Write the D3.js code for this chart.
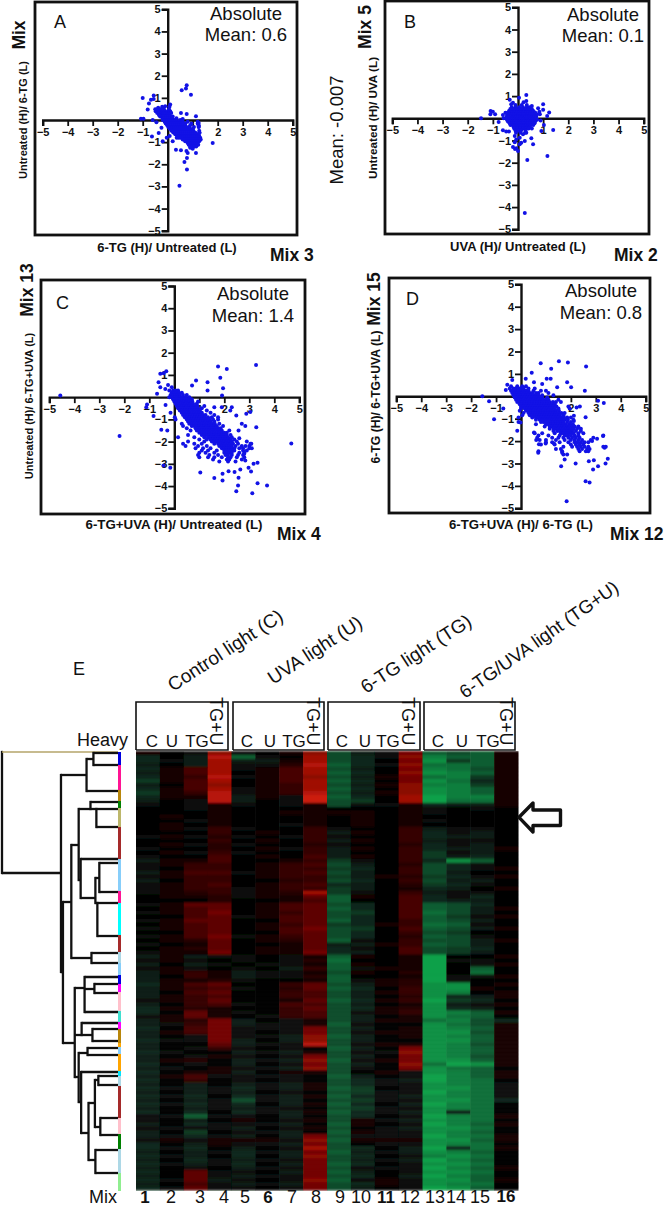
<!DOCTYPE html>
<html><head><meta charset="utf-8">
<script src="https://cdn.jsdelivr.net/npm/d3@7/dist/d3.min.js"></script>
<style>html,body{margin:0;padding:0;background:#fff}svg{display:block}text{font-family:"Liberation Sans",Arial,sans-serif;fill:#111}</style>
</head><body><svg id="c" width="666" height="1207"></svg>
<script>
// ---------- scatter data: [y, [x, x, ...]] bands of the dense clouds + outliers [x, y]
const axisTicks=[-5,-4,-3,-2,-1,1,2,3,4,5];
const coreA=[[.55,[-.38,-.2]],[.48,[-.5,-.42,-.3,-.15,.05]],[.4,[-.48,-.36,-.28,-.2,-.1,.02,.1]],[.32,[-.42,-.33,-.24,-.16,-.06,.04,.14]],[.24,[-.35,-.27,-.2,-.12,-.03,.06]],[.16,[-.3,-.22,-.14,-.06,.02,.1,.2]],[.08,[-.2,-.13,-.05,.03,.1,.18,.35]],[0,[-.2,-.1,-.02,.06,.14,.22,.3,.5]],[-.08,[-.12,-.04,.04,.12,.2,.28,.36,.44,.6,.8,1.2]],[-.16,[-.08,0,.08,.16,.24,.32,.4,.48,.56,.7,.95,1.2]],[-.24,[-.02,.06,.14,.22,.3,.38,.46,.54,.62,.7,.9,1.24]],[-.32,[.02,.1,.18,.26,.34,.42,.5,.58,.66,.74,.86,1.05,1.24]],[-.4,[.08,.16,.24,.32,.4,.48,.56,.64,.72,.8,.88,1]],[-.48,[.15,.22,.3,.38,.46,.54,.62,.7,.78,.86,.94,1.02,1.26]],[-.56,[.22,.3,.38,.46,.54,.62,.7,.78,.86,.94,1.02,1.1,1.27]],[-.64,[.3,.38,.46,.54,.62,.7,.78,.86,.94,1.02,1.1,1.18]],[-.72,[.08,.38,.46,.54,.62,.7,.78,.86,.94,1.02,1.1,1.18,1.26]],[-.8,[.36,.44,.52,.6,.68,.76,.84,.92,1,1.08,1.16,1.24,1.3]],[-.88,[.6,.68,.76,.84,.92,1,1.08,1.16,1.24,1.32]],[-.96,[.7,.78,.86,.94,1.02,1.1,1.18,1.26]],[-1.04,[.8,.88,.96,1.04,1.12,1.2]],[-1.12,[.84,.92,1,1.08,1.16,1.22]],[-1.2,[.9,.98,1.06,1.14]]];
const outA=[[.76,1.57],[.73,1.42],[.56,1.34],[.93,1.14],[-1,.99],[-.56,1.11],[-.67,.92],[-.56,.95],[-.75,.75],[-.8,.47],[-1.07,.06],[-.97,.06],[1.8,-1.04],[.47,-2.97],[.77,-2.24],[.67,-1.9],[.77,-1.72],[.8,-1.49],[1.13,-1.49],[.53,-1.37],[.33,-1.34],[-.63,-.74],[-.36,-.59],[-.2,-.96],[-.04,-.8],[.2,-.96],[.53,.32],[.76,.27],[1.13,.17],[1.24,-.14],[1.24,-.3],[1.27,-.59],[-.33,.2],[.1,.7],[.07,.6],[-.1,.62],[-.22,.6],[-.6,0],[-.45,-.1],[.75,-1.4],[1,-1.3],[.9,-1.25],[.6,.05],[-.25,-.35]];
const coreB=[[.6,[-.1,.15,.35]],[.5,[-.25,-.1,.05,.2,.35,.45]],[.42,[-.3,-.18,-.06,.06,.18,.3,.42,.55]],[.34,[-.35,-.25,-.13,-.01,.11,.23,.35,.47,.6]],[.26,[-.4,-.31,-.22,-.13,-.04,.05,.14,.23,.32,.41,.5,.59,.68]],[.18,[-.42,-.33,-.24,-.15,-.06,.03,.12,.21,.3,.39,.48,.57,.66,.75]],[.1,[-.44,-.35,-.26,-.17,-.08,.01,.1,.19,.28,.37,.46,.55,.64,.73]],[.02,[-.46,-.37,-.28,-.19,-.1,-.01,.08,.17,.26,.35,.44,.53,.62,.71]],[-.06,[-.44,-.35,-.26,-.17,-.08,.01,.1,.19,.28,.37,.46,.55,.64,.76]],[-.14,[-.4,-.31,-.22,-.13,-.04,.05,.14,.23,.32,.41,.5,.59,.68]],[-.22,[-.33,-.24,-.15,-.06,.03,.12,.21,.3,.39,.48,.57,.66]],[-.3,[-.3,-.2,-.11,-.02,.07,.16,.25,.34,.43,.52,.61]],[-.38,[-.18,-.08,.01,.1,.19,.28,.37,.46]],[-.46,[-.15,-.03,.08,.2,.3,.42,.55]],[-.55,[-.1,.02,.12,.3]],[-.65,[-.08,.1,.28]]];
const outB=[[.33,1.05],[.04,.93],[-.33,.83],[-.27,.63],[-.2,.7],[.33,.78],[.22,.72],[1,.63],[1,.38],[1.24,.26],[1.16,.1],[.87,.18],[-1.09,.33],[-1,.3],[-.91,.18],[-1.1,.18],[-1.47,0],[-.77,-.17],[-.57,0],[-.6,-.54],[-.47,-.6],[-.36,-.6],[1.4,-.53],[1.03,-.3],[.93,-.57],[.53,-.9],[.6,-1.17],[.27,-1.02],[.13,-1.1],[.07,-1.17],[-.2,-1.29],[-.07,-1.35],[0,-1.47],[-.12,-1.38],[.37,-1.88],[1.17,-1.7],[.27,-4.27],[-.13,-.8],[-.07,-.95],[.07,-.88],[-.13,-1.08],[.2,-.72],[.33,-.65],[.8,.45],[.55,.55],[-.5,.25],[-.6,.15],[.9,-.1],[.85,.3]];
const coreC=[[.3,[-.05,.05,.15]],[.2,[-.1,0,.08,.18,.3]],[.1,[-.15,-.05,.04,.13,.22,.35,.5]],[0,[-.2,-.08,.02,.12,.22,.32,.45,.6]],[-.1,[-.05,.05,.15,.25,.35,.45,.55,.7]],[-.2,[0,.1,.2,.3,.4,.5,.6,.72,.95]],[-.3,[.05,.15,.25,.35,.45,.55,.65,.75,.9]],[-.4,[.1,.2,.3,.4,.5,.6,.7,.8,.92,1.2]],[-.5,[.15,.25,.35,.45,.55,.65,.75,.85,.95,1.1]],[-.6,[.22,.32,.42,.52,.62,.72,.82,.92,1.02,1.3]],[-.7,[.3,.4,.5,.6,.7,.8,.9,1,1.1,1.45]],[-.8,[.35,.45,.55,.65,.75,.85,.95,1.05,1.15,1.25,1.6]],[-.9,[.02,.42,.52,.62,.72,.82,.92,1.02,1.12,1.22,1.35,1.5]],[-1,[.05,.5,.6,.7,.8,.9,1,1.1,1.2,1.3,1.4,1.55,1.75]],[-1.1,[.55,.65,.75,.85,.95,1.05,1.15,1.25,1.35,1.45,1.6]],[-1.2,[.3,.6,.7,.8,.9,1,1.1,1.2,1.3,1.4,1.5,1.62,1.8]],[-1.3,[.35,.7,.8,.9,1,1.1,1.2,1.3,1.4,1.5,1.6,1.7,1.95]],[-1.4,[.5,.85,.95,1.05,1.15,1.25,1.35,1.45,1.55,1.65,1.75,1.85]],[-1.5,[.65,.9,1,1.1,1.2,1.3,1.4,1.5,1.6,1.7,1.8,1.9,2.2]],[-1.6,[1,1.1,1.2,1.3,1.4,1.5,1.6,1.7,1.8,1.9,2,2.1]],[-1.7,[.55,1.1,1.2,1.3,1.4,1.5,1.6,1.7,1.8,1.9,2,2.1,2.25]],[-1.8,[.8,1.2,1.35,1.45,1.55,1.65,1.75,1.85,1.95,2.05,2.15,2.3]],[-1.9,[1,1.3,1.45,1.55,1.65,1.75,1.85,1.95,2.05,2.15,2.25,2.4]],[-2,[.55,1.2,1.5,1.6,1.7,1.8,1.9,2,2.1,2.2,2.3,2.5,2.9]],[-2.1,[.35,.8,1.1,1.6,1.75,1.85,1.95,2.05,2.15,2.25,2.35,2.55,3.05]],[-2.2,[.45,.95,1.3,1.8,1.9,2,2.1,2.2,2.3,2.45,2.7,2.85,3]],[-2.3,[.85,1.15,1.45,1.9,2,2.1,2.2,2.3,2.4,2.6,2.75,3,3.1]],[-2.4,[1.1,1.35,1.7,2,2.1,2.2,2.3,2.4,2.75,2.9]],[-2.5,[1,1.25,1.6,2,2.1,2.2,2.3,2.6,2.8]],[-2.6,[.95,1.4,1.75,2.05,2.15,2.3,2.55,2.75]],[-2.7,[1,1.35,1.6,1.9,2.15,2.25,2.5,2.8]],[-2.8,[1.55,2.1,2.2,2.7]],[-2.9,[1.8,2.15,2.45]]];
const outC=[[-4.56,.07],[-2.19,-1.75],[-1.12,-.45],[-1.09,-.33],[-.83,-.85],[-.52,-1.47],[-.69,.15],[-.43,-3.07],[-.16,-3.18],[-.56,1.05],[-.32,1.17],[-.43,1.08],[-.63,.67],[-.56,.45],[-.36,.37],[3.27,1.45],[1.75,1.38],[2.1,1.27],[1.84,.87],[1.33,.67],[.87,.75],[.71,.52],[1.95,.4],[1.33,.3],[1.91,.07],[4.68,-2.08],[3.71,-3.97],[3.33,-3.87],[3.12,-4.32],[2.48,-4.23],[2.55,-3.97],[2.57,-3.63],[1.6,-3.64],[1.93,-3.75],[1.93,-3.45],[1.04,-3.39],[2.17,-3.33],[2.41,-3.37],[2.64,-3.25],[2.97,-3.18],[3.07,-3.34],[3.17,-3],[3.33,-2.95],[2.8,-2.55],[2.84,-2.85],[3.08,-2.1],[3.28,-1.35],[2.84,-1.3],[3.04,-.67],[2.88,-.75],[2.48,-.82],[2.3,-.45],[1.9,-.45],[2.24,-.6],[2.7,-1.2],[2.57,-1.5],[-.1,.45],[-.25,.55],[-.2,.3],[-.35,-.35],[-.15,-.7],[-.28,-1.5],[.15,-1.8],[1.75,-.9],[1.6,-.45],[2.6,-1.85]];
const coreD=[[.45,[-.4,-.15,.05,.2]],[.35,[-.45,-.3,-.2,-.1,0,.1,.3,.55]],[.25,[-.4,-.3,-.2,-.1,0,.1,.2,.3,.5,.8,1]],[.15,[-.35,-.25,-.15,-.05,.05,.15,.25,.35,.45,.6,.7,1.1]],[.05,[-.3,-.2,-.1,0,.1,.2,.3,.4,.5,.6,.7,.85,1.3]],[-.05,[-.25,-.15,-.05,.05,.15,.25,.35,.45,.55,.65,.75,.85,1.05]],[-.15,[-.2,-.1,0,.1,.2,.3,.4,.5,.6,.7,.8,.9,1,1.1,1.5]],[-.25,[-.15,-.05,.05,.15,.25,.35,.45,.55,.65,.75,.85,.95,1.05,1.15,1.28,1.4,1.6]],[-.35,[-.05,.05,.15,.25,.35,.45,.55,.65,.75,.85,.95,1.05,1.15,1.25,1.35]],[-.45,[0,.1,.2,.3,.4,.5,.6,.7,.8,.9,1,1.1,1.2,1.3,1.42,1.9]],[-.55,[0,.15,.25,.35,.45,.55,.65,.75,.85,.95,1.05,1.15,1.25,1.35,1.5,1.95]],[-.65,[-.05,.2,.3,.4,.5,.6,.7,.8,.9,1,1.1,1.2,1.3,1.4,1.52]],[-.75,[.1,.3,.4,.5,.6,.7,.8,.9,1,1.1,1.2,1.3,1.4,1.5,1.62,1.75]],[-.85,[.05,.35,.45,.55,.65,.75,.85,.95,1.05,1.15,1.25,1.35,1.45,1.55,1.7]],[-.95,[-.1,.45,.6,.7,.8,.9,1,1.1,1.2,1.3,1.4,1.5,1.6,1.72,1.85,2]],[-1.05,[.6,.75,.85,.95,1.05,1.15,1.25,1.35,1.45,1.55,1.65,1.75,1.88,2.1]],[-1.15,[-.1,.8,.9,1,1.1,1.2,1.3,1.4,1.5,1.6,1.7,1.85,2]],[-1.25,[.6,1,1.1,1.2,1.3,1.4,1.5,1.6,1.7,1.8,1.95,2.08]],[-1.35,[.95,1.15,1.25,1.35,1.45,1.55,1.65,1.75,1.85,1.95,2.05,2.15,2.3]],[-1.45,[1.15,1.3,1.4,1.5,1.6,1.7,1.8,1.9,2,2.1,2.25,2.4]],[-1.55,[1.3,1.45,1.55,1.65,1.75,1.85,1.95,2.05,2.2,2.4]],[-1.65,[.55,.85,1.35,1.6,1.7,1.8,1.9,2,2.1,2.3,2.5]],[-1.75,[.7,1.1,1.55,1.75,1.85,2,2.15,2.3,3.3]],[-1.85,[.65,1.25,1.5,1.7,1.9,2.05,2.2,2.35,2.9]],[-1.95,[.75,1,1.4,1.75,2,2.15,2.3,2.45,2.8]],[-2.05,[1,1.25,1.55,1.9,2.15,2.25,2.4,2.55,2.7]],[-2.15,[.8,1.35,2,2.2,2.35,2.5]],[-2.25,[1.7,2.05,2.25,2.4,2.55,2.7,3.3,3.4]],[-2.35,[1.4,1.6,2.3,2.45,2.65,2.75]],[-2.45,[.7,1.65,2.35,2.6,2.7]],[-2.6,[1.7,1.85]]];
const outD=[[.79,1.48],[1.52,1.56],[1.88,1.51],[2.61,1.33],[1.21,1.23],[.43,1.05],[1.85,.63],[2.01,.4],[2.56,.25],[1.45,.4],[1.19,.78],[1.03,.78],[.85,.55],[.52,.63],[.19,.78],[-.35,.73],[-1.55,0],[-1.28,-.22],[-.71,-.54],[-1.08,-1.02],[-.61,.28],[-.55,.52],[3.09,-.2],[3.32,-.3],[2.36,-.45],[2.23,-.5],[2.59,-.94],[2.12,-.87],[2.12,-1.1],[-.02,-1.17],[-.15,-1.54],[.52,-1.62],[.61,-1.95],[.72,-2.14],[.69,-2.52],[.99,-2.11],[1.32,-2.11],[1.65,-2.52],[1.75,-2.82],[1.61,-3.12],[2.19,-3],[2.72,-2.9],[2.92,-2.85],[2.89,-3.27],[3.09,-3.12],[3.39,-3],[3.48,-2.79],[3.35,-2.3],[3.29,-1.77],[3.05,-1.9],[2.85,-2],[2.59,-3.79],[2.75,-3.85],[1.83,-4.69]];

// ---------- heat map data: one row per gene block, values -10 (green) .. +10 (red)
const heatColumns=d3.range(1,17);
const heatRows=[
[1,0,-1,7,-1,0,1,7,-5,-2,-1,6,-6,-5,-6,1],[-3,0,-2,9,-6,-1,0,8,-5,-3,-1,7,-8,-6,-6,1],[-3,-1,-2,8,-2,-2,1,8,-5,-3,0,6,-9,-4,-6,1],[-2,0,-2,8,-1,-1,2,9,-6,-3,-1,7,-7,-7,-6,1],
[-3,1,4,8,-1,1,4,8,-5,-2,0,6,-8,-7,-5,1],[-2,1,4,8,0,1,4,8,-6,-3,0,7,-9,-8,-6,1],[-3,1,3,9,-1,1,4,7,-5,-2,1,6,-7,-8,-4,1],[-4,1,4,8,0,1,4,8,-6,-3,0,6,-9,-7,-3,1],[-2,0,4,7,0,1,3,8,-5,-2,1,7,-8,-8,-4,1],[-3,1,4,8,-1,1,3,8,-6,-3,0,7,-9,-8,-6,1],[-4,1,3,9,-1,1,3,9,-5,-2,1,7,-9,-8,-6,1],[-3,1,1,9,-2,1,-1,10,-6,-3,0,8,-10,-8,-8,1],[-2,0,-1,9,-2,0,-1,10,-5,-4,0,8,-10,-7,-7,1],[-1,0,-1,1,-1,0,-1,1,-5,-1,-1,1,-3,-2,-2,1],
[0,0,-1,1,0,0,0,1,0,0,0,1,-1,0,-1,0],[0,0,0,1,0,0,1,1,1,1,0,1,-1,0,0,0],[0,1,0,1,0,0,0,1,0,1,0,1,0,0,0,0],[0,0,-1,1,0,0,0,1,0,1,0,1,-1,0,0,0],[0,1,0,1,0,0,-1,1,0,1,0,1,0,0,0,0],
[0,1,-1,3,-1,0,0,3,-1,0,0,3,-2,-1,-1,0],[0,0,0,3,0,1,0,3,-2,1,0,3,-3,-1,-2,0],[-1,1,-1,2,-1,0,-1,3,-1,0,0,3,-3,-2,-2,0],[0,0,0,3,0,1,0,3,-2,1,0,3,-2,-1,-1,0],[0,1,-1,2,-1,0,0,2,-1,0,0,2,-3,-1,-2,0],[-1,0,0,2,0,1,-1,3,-2,1,0,3,-3,-2,-2,1],[0,1,-1,3,-1,0,0,3,-2,0,0,3,-4,-1,-2,0],[-1,0,0,4,0,1,0,4,-2,1,0,3,-4,-2,-3,0],
[-2,1,1,4,0,0,1,3,-4,-1,0,3,-3,-9,-6,0],[-1,1,3,3,0,1,3,4,-5,-2,0,2,-5,-3,-1,0],[-1,0,3,3,0,1,3,3,-4,-3,0,3,-5,-3,-1,1],[-2,1,4,4,-1,1,3,4,-5,-2,0,3,-5,-2,0,0],[-1,1,3,3,0,1,3,3,-4,-2,1,2,-4,-3,-1,1],[-2,0,3,3,0,0,2,3,-5,-3,0,3,-5,-2,-2,0],[-1,1,3,4,0,1,3,4,-3,-2,0,2,-4,-3,-1,0],[-1,1,3,3,-1,1,3,3,-4,-2,0,1,-3,-2,0,1],
[-1,1,2,3,-1,1,2,8,-4,-1,0,3,-2,-1,-1,0],[0,1,1,2,-1,1,1,5,-6,1,0,4,-3,-1,-3,0],[0,0,0,2,0,0,1,4,-6,0,0,4,-3,-2,-2,0],
[-1,1,5,5,0,1,4,5,-5,-3,0,4,-6,-5,-3,0],[0,1,4,5,0,1,4,5,-6,-3,0,4,-6,-5,-2,1],[-1,1,4,6,0,1,3,5,-5,-4,0,4,-7,-5,-2,0],[0,0,4,5,-1,1,4,5,-5,-3,0,4,-6,-4,-1,1],[-1,1,5,5,0,0,4,5,-6,-3,0,3,-6,-5,-2,0],[0,1,4,5,0,1,3,5,-4,-3,1,3,-7,-6,-1,0],[-1,1,4,5,0,1,4,6,-5,-4,0,4,-6,-5,-2,1],[0,0,4,5,0,0,4,5,-5,-3,0,3,-5,-4,0,0],[-1,1,4,6,-1,1,3,5,-5,-3,0,2,-6,-5,-1,0],[0,1,2,5,0,1,2,5,-6,-1,0,3,-5,-5,-2,1],[-1,0,1,5,0,0,1,5,-2,-2,1,3,-6,-5,-2,0],[0,1,2,5,0,1,1,5,-3,-1,0,4,-5,-4,-3,0],[-1,1,1,6,0,1,1,6,-3,-2,0,4,-5,-4,-2,0],
[-2,1,-2,-1,-1,0,-1,1,-6,1,0,1,-10,0,0,1],[-1,1,-1,0,-1,0,-1,2,-7,0,0,1,-10,-1,-1,0],[-2,0,-2,-1,0,-1,-1,1,-6,1,0,1,-10,0,-1,1],[-1,1,-1,0,-1,0,-2,3,-6,-1,1,1,-10,0,-6,0],
[-2,1,3,1,-2,-1,-1,1,-5,1,0,2,-10,0,-7,0],[-2,0,3,1,-2,-1,-1,2,-6,0,0,1,-10,-1,-1,1],[-2,1,1,2,-1,0,0,1,-6,-1,1,2,-10,-1,0,0],
[-3,1,4,5,0,0,3,5,-5,-2,1,2,-9,-9,0,1],[-2,1,3,4,-1,0,2,5,-6,-3,0,3,-9,-9,1,0],[-2,0,4,5,0,0,3,4,-5,-2,1,3,-9,-8,0,1],[-2,1,3,4,0,0,3,4,-5,-2,0,2,-9,-3,-2,1],[-1,1,3,5,0,0,1,5,-6,-3,1,3,-10,-4,-3,0],[-2,0,3,4,-1,0,4,4,-5,-2,0,1,-9,-2,-1,1],[-3,1,2,1,0,0,3,5,-5,-3,1,2,-9,-3,-2,0],[-3,0,5,1,-1,0,3,4,-5,-1,1,3,-9,-8,-6,1],[-1,1,5,1,0,-1,3,4,-5,-2,0,1,-9,-7,-6,0],
[-2,1,2,6,-2,0,-1,1,-5,-2,1,1,-7,-8,-5,-3],[-2,-1,3,6,-2,-1,-1,1,-6,-1,0,0,-9,-7,-5,1],[-3,0,4,6,-1,-1,-1,6,-5,-2,0,1,-9,-8,-6,1],[-2,1,4,6,-1,0,-1,6,-5,-1,1,1,-9,-9,-5,1],[-2,0,-1,6,-1,-1,-2,7,-6,-2,0,1,-9,-8,-6,1],[-3,-1,-1,6,-2,0,-2,7,-5,-2,0,0,-9,-9,-6,1],[-2,0,0,5,-2,-1,-1,9,-5,-1,1,1,-9,-8,-5,1],
[-2,0,-1,3,-1,0,-1,0,-6,-2,0,6,-9,-8,-6,1],[-3,-1,0,0,-2,-1,-2,1,-5,-1,-1,7,-9,-8,-6,1],[-2,0,-1,1,-1,0,-1,6,-5,-2,0,6,-9,-8,-5,1],[-2,1,2,0,-2,-1,-2,7,-6,-1,1,6,-9,-9,-6,1],[-3,0,-1,0,-2,0,-1,6,-5,-2,0,7,-7,-10,-9,1],[-2,-1,0,1,-1,-1,-2,7,-5,-1,0,6,-9,-7,-6,0],
[-3,0,1,1,-2,0,1,1,-5,0,1,-1,-9,-8,-6,1],[-2,1,4,-1,-1,-1,-1,0,-6,-2,0,-1,-10,-8,-6,1],[-3,0,3,0,-1,0,-1,0,-5,-3,-1,-2,-10,-8,-7,0],
[-2,0,-2,0,-2,-1,-2,1,-5,-3,-1,-1,-9,-8,-7,-1],[-3,-1,-2,-1,-3,-1,-2,1,-6,-4,0,-1,-9,-9,-7,-1],[-2,0,-2,-1,-2,0,-1,0,-5,-4,-1,-1,-10,-8,-7,-1],[-3,-1,-3,0,-3,-1,-2,1,-6,-3,-1,-2,-9,-8,-7,-1],[-2,0,-2,-1,-5,-1,-2,0,-5,-4,-1,-1,-9,-9,-7,-3],[-3,-1,-3,-1,-3,0,-2,1,-6,-3,0,-2,-10,-8,-7,0],[-2,0,-2,-1,-2,-1,-1,0,-5,-4,-1,-1,-9,-8,-7,0],[-3,0,-3,0,-3,-1,-2,1,-6,-3,-1,-2,-9,-2,-7,0],
[-1,-1,-6,-1,-1,0,-2,0,-5,-3,0,-1,-10,-8,-7,1],[-1,0,-2,0,1,0,-1,1,-5,1,-1,-2,-9,-8,-7,0],[-2,0,-3,-1,-1,-1,-2,0,-6,1,0,-1,-10,-8,-6,1],[-1,-1,-1,-1,-2,0,-1,1,-5,0,-1,-2,-9,-9,-7,0],[-2,0,-4,0,-1,-1,-2,0,-6,1,-1,-1,-9,-8,-6,0],
[-2,-1,-3,-1,-2,0,-2,6,-5,-1,-1,-1,-10,-8,-7,1],[-1,1,-1,1,1,1,-1,7,-6,1,1,1,-9,-9,-6,1],[-3,0,-2,1,-1,-1,-2,6,-5,0,-1,-1,-9,-8,-7,0],[-3,-1,-3,0,-2,0,-1,8,-5,-3,0,-2,-10,-3,-7,1],[-2,0,-2,-1,-3,-1,-2,6,-6,-2,-1,-2,-9,-8,-6,0],[-3,-1,-2,0,-3,0,-2,7,-5,-3,0,-1,-8,-9,-7,0],[-2,0,-3,-1,-2,-1,-1,6,-5,-2,-1,-2,-10,-8,-6,0],[-3,-1,-2,-1,-3,0,-2,6,-6,-3,0,-1,-9,-9,-7,0],[-2,0,-1,0,-2,-1,-1,6,-5,-1,-1,-1,-10,-8,-6,1],
[-3,0,5,-1,-1,0,-2,6,-6,-2,0,-1,-9,-9,-7,0],[-2,0,5,-1,-2,-1,-1,6,-5,-3,0,-2,-10,-8,-6,0],[-3,-1,5,-2,-1,0,-1,7,-6,-1,1,-1,-9,-9,-6,1],[-2,0,4,-1,-2,-1,-2,6,-5,-3,1,-1,-9,-8,-7,0],[-3,-1,5,-1,-1,0,-1,6,-5,-2,0,-1,-10,-9,-6,0]];
const boldMix=[1,6,11,16];
const groupTitles=["Control light (C)","UVA light (U)","6-TG light (TG)","6-TG/UVA light (TG+U)"];
const heavyLabels=["C","U","TG","TG+U"];
// cluster colour strip: stops in gene units, with one colour per cluster
const clusterStops=[1,14,39,50,57,76,108,140,152,184,201,212,224,233,241,260,271,278,292,296,303,320,325,335,367,383,398,422,440];
const clusterColors=["#0000e0","#ff1493","#b8860b","#008000","#bdb76b","#a52a2a","#87cefa","#ff1493","#00ffff","#a52a2a","#add8e6","#87cefa","#0000e0","#ff00ff","#ffc0cb","#40e0d0","#ff00ff","#b8860b","#ffa500","#87cefa","#ffa500","#00e5ff","#add8e6","#a52a2a","#ffc0cb","#008000","#add8e6","#90ee90"];
// dendrogram: [distance, gene position, children...]; leaf = [0, gene position]
const dendrogram=[118,1,[0,1],
 [58,122,
  [32,24,[25,8,[0,2],[0,14]],[0,40]],
  [56,221,
   [47.5,151,
    [40,94,
     [28,58,[0,51],[22,58,[0,58],[0,76]]],
     [38,129,[0,108],[23,147,[19,127,[0,112],[0,141]],[21,152,[0,152],[0,185]]]]],
    [27,207,[0,202],[0,212]]],
   [44,292,
    [34,237,[0,226],[24,238,[0,233],[0,242]],[0,261]],
    [37,284,[0,272],[26,284,[0,278],[0,290]]],
    [40,326,[31,302,[0,297],[0,304]],
     [37.5,351,[0,321],
      [30,382,
       [23.5,352,[20,329,[0,325],[0,334]],[18,376,[0,367],[0,384]]],
       [23,409,[0,399],[0,422]]]]]]]]];

// ---------- layout
const svg=d3.select("#c");
const panels=[
 {core:coreA,out:outA,frame:[35,2,297,235],xr:[42.7,292.7],yr:[230.7,9.3],letter:"A",lx:54,ly:28,abs:[246,20,41],mean:"Mean: 0.6",xlab:"6-TG (H)/ Untreated (L)",xl:[167,252,13],ylab:"Untreated (H)/ 6-TG (L)",yl:[27,120,11],mix:["Mix 3",270,261],rmix:["Mix",25,35]},
 {core:coreB,out:outB,frame:[385,1,649,234],xr:[392.3,643.7],yr:[229.3,7.3],letter:"B",lx:404,ly:28,abs:[603,21,42],mean:"Mean: 0.1",xlab:"UVA (H)/ Untreated (L)",xl:[518,251,13],ylab:"Untreated (H)/ UVA (L)",yl:[377,118,11.7],mix:["Mix 2",614,261],rmix:["Mix 5",371,27]},
 {core:coreC,out:outC,frame:[41,280,305,514],xr:[49.3,299.3],yr:[508.3,286],letter:"C",lx:56,ly:309,abs:[253,300,322],mean:"Mean: 1.4",xlab:"6-TG+UVA (H)/ Untreated (L)",xl:[174,529,13.3],ylab:"Untreated (H)/ 6-TG+UVA (L)",yl:[33,406,11],mix:["Mix 4",277,540],rmix:["Mix 13",33,290]},
 {core:coreD,out:outD,frame:[389,278,650,513],xr:[396.3,645.7],yr:[508.3,284.3],letter:"D",lx:406,ly:305,abs:[601,297,319],mean:"Mean: 0.8",xlab:"6-TG+UVA (H)/ 6-TG (L)",xl:[521,529,13.2],ylab:"6-TG (H)/ 6-TG+UVA (L)",yl:[380,397,12.2],mix:["Mix 12",610,540],rmix:["Mix 15",380,299]}
];
function rotText(x,y,t,size,weight){return svg.append("text").attr("transform",`translate(${x},${y}) rotate(-90)`).attr("text-anchor","middle").attr("font-size",size).attr("font-weight",weight).text(t);}
panels.forEach(p=>{
 const g=svg.append("g");
 const [x0,y0,x1,y1]=p.frame;
 g.append("rect").attr("x",x0).attr("y",y0).attr("width",x1-x0).attr("height",y1-y0).attr("fill","none").attr("stroke","#111").attr("stroke-width",2.8);
 const x=d3.scaleLinear().domain([-5,5]).range(p.xr), y=d3.scaleLinear().domain([-5,5]).range(p.yr);
 const pts=p.core.flatMap(([v,xs])=>xs.map(u=>[u,v])).concat(p.out);
 const ax=g.append("g").attr("transform",`translate(0,${y(0)})`).call(d3.axisBottom(x).tickValues(axisTicks).tickSize(6).tickPadding(2).tickFormat(d3.format("d")));
 const ay=g.append("g").attr("transform",`translate(${x(0)},0)`).call(d3.axisLeft(y).tickValues(axisTicks).tickSize(6).tickPadding(1).tickFormat(d3.format("d")));
 [ax,ay].forEach(a=>{a.select(".domain").attr("stroke","#111").attr("stroke-width",2.4);a.selectAll("line").attr("stroke","#111").attr("stroke-width",1.8);a.selectAll("text").attr("font-size",11).attr("font-weight","bold").style("font-family",'"Liberation Sans",Arial,sans-serif').attr("fill","#111");});
 g.append("g").selectAll("circle").data(pts).join("circle").attr("cx",d=>x(d[0])).attr("cy",d=>y(d[1])).attr("r",2).attr("fill","#1212e6");
 g.append("text").attr("x",p.lx).attr("y",p.ly).attr("font-size",18).text(p.letter);
 g.append("text").attr("x",p.abs[0]).attr("y",p.abs[1]).attr("text-anchor","middle").attr("font-size",18.5).text("Absolute");
 g.append("text").attr("x",p.abs[0]).attr("y",p.abs[2]).attr("text-anchor","middle").attr("font-size",18.5).text(p.mean);
 g.append("text").attr("x",p.xl[0]).attr("y",p.xl[1]).attr("text-anchor","middle").attr("font-size",p.xl[2]).attr("font-weight","bold").text(p.xlab);
 rotText(p.yl[0],p.yl[1],p.ylab,p.yl[2],"bold");
 g.append("text").attr("x",p.mix[1]).attr("y",p.mix[2]).attr("font-size",17.5).attr("font-weight","bold").text(p.mix[0]);
 rotText(p.rmix[1],p.rmix[2],p.rmix[0],17.5,"bold");
});
rotText(343,130,"Mean: -0.007",18.5,"normal");

// ---------- heat map
const hx=d3.scaleBand().domain(heatColumns).range([136,518]);
const hy=d3.scaleBand().domain(d3.range(heatRows.length)).range([751,1190]);
const heatColor=d3.scaleLinear().domain([-10,-5,-3,0,4,8,10]).range(["#0fa048","#0a4c2c","#08281a","#060202","#460404","#a00803","#cc1e0e"]);
const defs=svg.append("defs");
defs.append("filter").attr("id","soft").attr("x",0).attr("y",0).attr("width",1).attr("height",1).append("feGaussianBlur").attr("stdDeviation","0.5 1");
const hg=svg.append("g").attr("filter","url(#soft)");
hg.selectAll("g").data(heatRows).join("g").attr("transform",(d,i)=>`translate(0,${hy(i)})`)
 .selectAll("rect").data(d=>d.map((v,i)=>({v,c:heatColumns[i]}))).join("rect")
 .attr("x",d=>hx(d.c)).attr("width",hx.bandwidth()+.5).attr("height",hy.bandwidth()+.5).attr("fill",d=>heatColor(d.v));

// column numbers
const numX=[145,171,200,224,245,268,292,316,340,361,386,410,435,456,480,506];
svg.append("g").selectAll("text").data(heatColumns).join("text").attr("x",(d,i)=>numX[i]).attr("y",d=>d==16?1202:1203).attr("text-anchor","middle").attr("font-size",d=>boldMix.includes(d)?17:18).attr("font-weight",d=>boldMix.includes(d)?"bold":"normal").text(d=>d);
svg.append("text").attr("x",89).attr("y",1203).attr("font-size",18).text("Mix");
svg.append("text").attr("x",73).attr("y",675).attr("font-size",18).text("E");
svg.append("text").attr("x",77).attr("y",746).attr("font-size",18).text("Heavy");

// boxes and headers
const boxes=[[136,228],[233,324],[328,420],[424,515]];
const heavyX=[[152,172,197,210],[247,270,294,307],[342,365,388,402],[438,462,488,500]];
boxes.forEach((b,i)=>{
 svg.append("path").attr("d",`M${b[0]},750V702H${b[1]}V750H${b[0]}`).attr("fill","none").attr("stroke","#111").attr("stroke-width",1.6);
 heavyLabels.forEach((t,j)=>{
  if(j<3) svg.append("text").attr("x",heavyX[i][j]).attr("y",747).attr("text-anchor","middle").attr("font-size",17).text(t);
  else svg.append("text").attr("transform",`translate(${heavyX[i][j]},697) rotate(90)`).attr("font-size",18).text(t);
 });
});
const titlePos=[[173,692,33,19],[273,685,33,19],[366,694,33,19],[465,699,35,18.5]];
groupTitles.forEach((t,i)=>svg.append("text").attr("transform",`translate(${titlePos[i][0]},${titlePos[i][1]}) rotate(${-titlePos[i][2]})`).attr("font-size",titlePos[i][3]).text(t));

// dendrogram via scales
const dx=d3.scaleLinear().domain([118,0]).range([2,118]);
const dy=d3.scaleLinear().domain([0,439]).range([751,1190]);
const dg=svg.append("g").attr("fill","none").attr("stroke","#111").attr("stroke-width",2.3);
(function draw(n){
 const [h,,...kids]=n;
 if(!kids.length)return;
 const rs=kids.map(k=>k[1]);
 dg.append("line").attr("x1",dx(h)).attr("x2",dx(h)).attr("y1",dy(d3.min(rs))).attr("y2",dy(d3.max(rs))).attr("stroke-linecap","square");
 kids.forEach(k=>{dg.append("line").attr("x1",dx(h)).attr("x2",dx(k[0])).attr("y1",dy(k[1])).attr("y2",dy(k[1])); draw(k);});
})(dendrogram);
dg.select("line:nth-child(2)").attr("stroke","#b5a56a").attr("stroke-width",1.4);
// colour strip
svg.append("g").selectAll("rect").data(clusterColors).join("rect").attr("x",118).attr("width",3)
 .attr("y",(d,i)=>dy(clusterStops[i])).attr("height",(d,i)=>dy(clusterStops[i+1])-dy(clusterStops[i])).attr("fill",d=>d);

// arrow
const arrowShape=[[519,817.3],[533,803],[533,810],[560.5,810],[560.5,825.5],[533,825.5],[533,832]];
svg.append("path").attr("d",d3.line()(arrowShape)+"Z").attr("fill","#fff").attr("stroke","#111").attr("stroke-width",3.4).attr("stroke-linejoin","round");
</script></body></html>
